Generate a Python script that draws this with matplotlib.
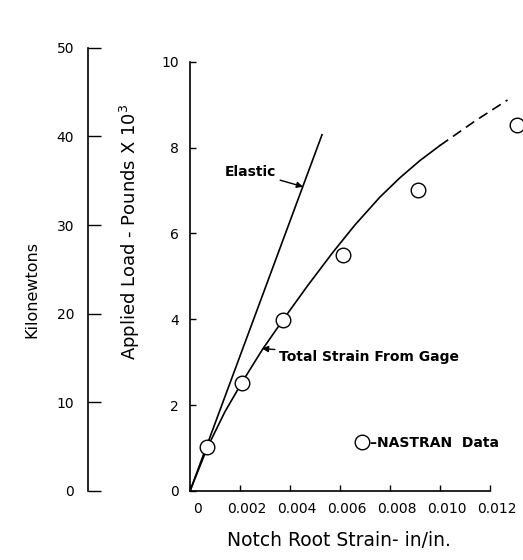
import matplotlib
matplotlib.use("Agg")
import matplotlib.pyplot as plt
from matplotlib.lines import Line2D
from matplotlib.transforms import ScaledTranslation

# data (strain in in/in, load in 10^3 lb)
elastic_x = [0.0, 0.00528]
elastic_y = [0.0, 8.30]

gage_x = [0.0, 0.0007, 0.0014, 0.0021, 0.0029, 0.0037, 0.0047, 0.0057,
          0.0066, 0.0076, 0.0084, 0.0092, 0.0100]
gage_y = [0.0, 1.02, 1.85, 2.55, 3.30, 3.97, 4.78, 5.55,
          6.20, 6.85, 7.30, 7.70, 8.05]

# dashed extrapolation of the gage curve
extrap_x = [0.0100, 0.0114, 0.0127]
extrap_y = [8.05, 8.62, 9.11]

nastran_x = [0.00068, 0.00207, 0.00373, 0.00613, 0.00912, 0.01308]
nastran_y = [1.03, 2.51, 3.99, 5.50, 7.02, 8.53]

x_ticks = [0, 0.002, 0.004, 0.006, 0.008, 0.010, 0.012]
x_ticklabels = ["0", "0.002", "0.004", "0.006", "0.008", "0.010", "0.012"]
y_ticks = [0, 2, 4, 6, 8, 10]
kn_ticks = [0, 10, 20, 30, 40, 50]

W, H = 523, 560
fig = plt.figure(figsize=(W / 100, H / 100), dpi=100)
fig.patch.set_facecolor("white")

bottom = (H - 491) / H
height = 485 / H
ax = fig.add_axes([190 / W, bottom, 332.5 / W, height])
ax.set_xlim(0, 0.0133)
ax.set_ylim(0, 11.3)

lw = 1.2
ax.plot(elastic_x, elastic_y, color="black", lw=lw)
ax.plot(gage_x, gage_y, color="black", lw=lw)
ax.plot(extrap_x, extrap_y, color="black", lw=lw, ls=(0, (6, 3.5)))
ax.plot(nastran_x, nastran_y, ls="none", marker="o", ms=10.5, mfc="white",
        mec="black", mew=1.0, clip_on=False)

# spines: only the bottom and left, cut to the tick range
for side in ["top", "right"]:
    ax.spines[side].set_visible(False)
ax.spines["left"].set_bounds(0, 10)
ax.spines["bottom"].set_bounds(0, 0.012)
for side in ["left", "bottom"]:
    ax.spines[side].set_linewidth(1.2)

ax.set_xticks(x_ticks)
ax.set_xticklabels(x_ticklabels)
ax.set_yticks(y_ticks)
ax.set_yticklabels([str(v) for v in y_ticks])
ax.tick_params(direction="in", length=4, width=1, labelsize=10, pad=8)
# the scanned x labels sit a little to the right of their ticks
shift = ScaledTranslation(7 / 100, 0, fig.dpi_scale_trans)
for lab in ax.get_xticklabels():
    lab.set_transform(lab.get_transform() + shift)

# notes and arrows
ax.annotate("Elastic", xy=(0.00452, 7.09), xytext=(0.00344, 7.44),
            ha="right", va="center", fontsize=10, fontweight="bold",
            arrowprops=dict(arrowstyle="-|>", color="black", lw=1.0,
                            shrinkA=1, shrinkB=0, mutation_scale=9))
ax.annotate("Total Strain From Gage", xy=(0.00288, 3.32), xytext=(0.00356, 3.12),
            ha="left", va="center", fontsize=10, fontweight="bold",
            arrowprops=dict(arrowstyle="-|>", color="black", lw=1.0,
                            shrinkA=1, shrinkB=0, mutation_scale=9))

handle = Line2D([], [], ls="none", marker="o", ms=10.5, mfc="white", mec="black", mew=1.0)
ax.legend([handle], ["\u2013NASTRAN  Data"], loc="center left",
          bbox_to_anchor=(0.0066 / 0.0133, 1.12 / 11.3), frameon=False,
          handlelength=1.0, handletextpad=0.05, borderpad=0, borderaxespad=0,
          prop=dict(size=10, weight="bold"))

# kilonewton scale on a separate bare axis (as drawn in the scan)
ax2 = fig.add_axes([88 / W, bottom, 0.001, height])
ax2.set_ylim(0, 54.7)
ax2.set_xticks([])
for side in ["top", "right", "bottom"]:
    ax2.spines[side].set_visible(False)
ax2.spines["left"].set_bounds(0, 50)
ax2.spines["left"].set_linewidth(1.2)
ax2.set_yticks(kn_ticks)
ax2.set_yticklabels([str(v) for v in kn_ticks])
ax2.tick_params(axis="y", direction="in", length=9, width=1, labelsize=10, pad=10)
ax2.patch.set_visible(False)

fig.text(339 / W, 1 - 540 / H, "Notch Root Strain- in/in.", ha="center", va="center",
         fontsize=13.5)
fig.text(32 / W, 1 - 290 / H, "Kilonewtons", rotation=90, ha="center", va="center",
         fontsize=11.5)
fig.text(130 / W, 1 - 232 / H, "Applied Load - Pounds X 10$^3$", rotation=90,
         ha="center", va="center", fontsize=13)

fig.savefig("out.png", dpi=100)
